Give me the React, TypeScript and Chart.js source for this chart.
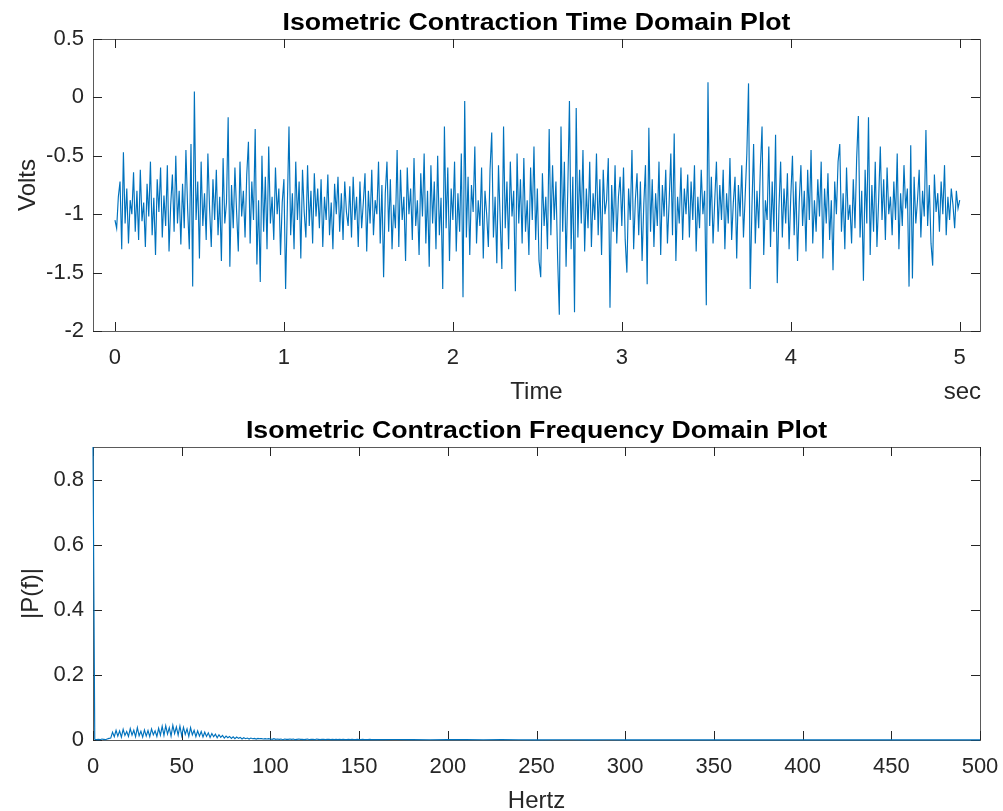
import React, { useEffect, useRef } from 'react';
import { Chart, registerables } from 'chart.js';
Chart.register(...registerables);

// ---------- Data: time domain (5 s, one reading every 10 ms) ----------
const SAMPLE_STEP_SEC = 0.01;
const VOLTS = [
  -1.05, -1.12, -0.85, -0.72, -1.30, -0.47, -1.08, -0.78, -1.25, -0.88, -1.00, -0.64, -1.15, -0.80, -1.22, -0.62, -1.06, -0.90, -1.28, -0.74,
  -1.02, -0.55, -1.18, -0.86, -1.35, -0.70, -0.98, -0.60, -1.20, -0.84, -1.10, -0.58, -1.32, -0.92, -0.66, -1.15, -0.50, -1.08, -0.80, -1.26,
  -0.74, -1.12, -0.45, -0.95, -1.30, -0.40, -1.62, 0.05, -1.05, -0.72, -1.38, -0.55, -1.10, -0.82, -1.22, -0.48, -0.95, -1.28, -0.70, -1.05,
  -0.62, -1.18, -0.85, -1.40, -0.52, -1.08, -0.90, -0.17, -1.45, -0.75, -1.12, -0.60, -0.98, -1.32, -0.55, -1.02, -0.80, -1.20, -0.66, -0.38,
  -1.25, -0.72, -1.05, -0.27, -1.43, -0.88, -1.58, -0.50, -1.15, -0.68, -1.30, -0.42, -1.08, -0.85, -1.22, -0.60, -1.00, -0.78, -1.35, -0.90,
  -0.70, -1.64, -0.95, -0.25, -1.18, -0.82, -1.30, -0.55, -1.05, -0.72, -1.38, -0.62, -0.98, -1.20, -0.58, -1.10, -0.80, -1.25, -0.65, -1.02,
  -0.78, -1.12, -0.70, -1.28, -0.85, -1.05, -0.66, -1.18, -0.90, -1.30, -0.74, -1.00, -0.68, -1.15, -0.82, -1.22, -0.72, -0.98, -1.10, -0.76,
  -1.20, -0.68, -1.05, -0.85, -1.28, -0.72, -1.12, -0.90, -0.65, -1.32, -0.80, -1.08, -0.62, -1.18, -0.88, -1.00, -0.55, -1.25, -0.75, -1.54,
  -0.82, -0.55, -1.15, -0.70, -1.30, -0.92, -1.12, -0.45, -1.28, -0.62, -1.05, -0.85, -1.40, -0.60, -1.00, -0.78, -1.22, -0.52, -1.10, -0.88,
  -1.35, -0.65, -1.02, -0.48, -1.25, -0.80, -1.45, -0.58, -1.08, -0.72, -1.30, -0.50, -1.18, -0.86, -1.64, -0.25, -1.12, -0.60, -1.40, -0.78,
  -1.05, -0.55, -1.32, -0.82, -1.15, -0.48, -1.71, -0.03, -1.20, -0.68, -1.35, -0.75, -0.98, -0.42, -1.25, -0.88, -1.10, -0.60, -1.38, -0.80,
  -1.00, -1.28, -0.62, -0.30, -1.20, -0.85, -1.42, -0.58, -1.05, -1.47, -0.25, -1.12, -0.72, -1.30, -0.55, -1.02, -0.80, -1.66, -0.48, -1.08,
  -0.70, -1.25, -0.52, -1.15, -0.88, -1.35, -0.60, -1.05, -0.42, -1.22, -0.78, -1.40, -1.54, -0.65, -1.10, -0.85, -1.30, -0.27, -1.18, -0.58,
  -1.05, -0.72, -1.38, -1.86, -0.25, -1.15, -0.55, -1.45, -0.80, -0.03, -1.30, -0.68, -1.84, -0.09, -1.20, -0.62, -1.08, -0.45, -1.32, -0.78,
  -1.12, -0.55, -1.28, -0.82, -1.05, -0.48, -1.18, -0.70, -1.35, -0.62, -1.00, -0.88, -0.52, -1.80, -0.75, -1.15, -0.58, -1.25, -0.85, -0.68,
  -1.10, -0.60, -1.22, -1.50, -0.78, -1.05, -0.45, -1.30, -0.88, -0.65, -1.18, -0.72, -1.40, -0.92, -0.58, -1.60, -0.26, -1.15, -0.70, -1.28,
  -0.82, -1.10, -0.55, -1.35, -0.75, -1.02, -0.62, -1.25, -0.90, -0.48, -1.18, -0.31, -1.40, -0.85, -1.08, -0.60, -1.22, -0.78, -1.00, -0.66,
  -1.20, -0.72, -1.05, -0.58, -1.32, -0.85, -1.12, -0.62, -1.00, -0.80, -1.78, 0.13, -1.10, -0.68, -1.25, -0.88, -0.55, -1.15, -0.75, -1.05,
  -0.62, -1.30, -0.82, -1.08, -0.52, -1.22, -0.90, -0.68, -1.38, -0.75, -1.02, -0.58, -1.20, -0.85, -0.48, 0.12, -1.64, -0.95, -0.40, -1.25,
  -0.80, -1.12, -0.60, -0.25, -1.35, -0.88, -1.05, -0.42, -1.28, -0.72, -1.15, -0.32, -1.59, -0.95, -0.55, -1.20, -0.78, -1.08, -0.65, -1.30,
  -0.85, -0.50, -1.18, -0.72, -1.40, -0.90, -0.58, -1.10, -0.80, -1.32, -0.62, -1.05, -0.45, -1.25, -0.88, -1.15, -0.70, -1.02, -0.55, -1.38,
  -0.78, -1.08, -0.65, -1.22, -0.88, -1.48, -0.72, -1.00, -0.55, -0.40, -1.15, -0.82, -1.30, -0.60, -1.05, -0.92, -1.25, -0.70, -1.12, -0.52,
  -0.16, -1.20, -0.80, -1.57, -0.62, -1.08, -0.17, -1.35, -0.75, -1.15, -0.55, -1.28, -0.88, -0.42, -1.05, -0.70, -1.22, -0.60, -1.00, -0.85,
  -1.18, -0.72, -1.05, -0.48, -1.30, -0.82, -1.10, -0.58, -0.95, -0.78, -1.62, -0.41, -1.55, -0.68, -1.08, -0.88, -0.62, -1.20, -0.80, -1.02,
  -0.28, -1.10, -0.75, -1.25, -1.44, -0.66, -0.98, -0.82, -1.15, -0.72, -1.00, -0.58, -1.18, -0.85, -1.05, -0.78, -0.92, -1.12, -0.80, -0.95,
  -0.88,
];
const TIME_TICKS = [0, 1, 2, 3, 4, 5];
const TIME_TICK_LABELS = ['0', '1', '2', '3', '4', '5'];
const VOLT_TICKS = [0.5, 0, -0.5, -1, -1.5, -2];
const VOLT_TICK_LABELS = ['0.5', '0', '-0.5', '-1', '-1.5', '-2'];

// ---------- Data: frequency domain ----------
const LOW_BAND_STEP_HZ = 1; // magnitudes for 0..159 Hz
const LOW_BAND_MAG = [
  0.90, 0.002, 0.001, 0.002, 0.001, 0.003, 0.002, 0.001, 0.003, 0.005,
  0.006, 0.024, 0.010, 0.030, 0.012, 0.028, 0.009, 0.033, 0.014, 0.026,
  0.011, 0.035, 0.015, 0.030, 0.010, 0.038, 0.013, 0.027, 0.009, 0.031,
  0.012, 0.029, 0.010, 0.034, 0.016, 0.028, 0.011, 0.036, 0.015, 0.042,
  0.014, 0.044, 0.018, 0.038, 0.012, 0.045, 0.020, 0.040, 0.015, 0.043,
  0.013, 0.039, 0.017, 0.034, 0.011, 0.038, 0.016, 0.030, 0.010, 0.028,
  0.012, 0.026, 0.009, 0.024, 0.011, 0.022, 0.008, 0.020, 0.010, 0.018,
  0.007, 0.016, 0.008, 0.014, 0.006, 0.012, 0.007, 0.011, 0.005, 0.010,
  0.004, 0.009, 0.005, 0.008, 0.003, 0.007, 0.004, 0.006, 0.003, 0.006,
  0.004, 0.005, 0.003, 0.005, 0.004, 0.004, 0.003, 0.004, 0.003, 0.004,
  0.003, 0.002, 0.004, 0.002, 0.003, 0.002, 0.003, 0.001, 0.003, 0.002,
  0.002, 0.003, 0.002, 0.003, 0.001, 0.002, 0.003, 0.002, 0.002, 0.001,
  0.002, 0.003, 0.001, 0.002, 0.002, 0.001, 0.003, 0.002, 0.001, 0.002,
  0.002, 0.001, 0.002, 0.002, 0.001, 0.002, 0.001, 0.002, 0.001, 0.002,
  0.001, 0.002, 0.001, 0.001, 0.002, 0.001, 0.002, 0.001, 0.001, 0.002,
  0.001, 0.001, 0.002, 0.001, 0.001, 0.001, 0.002, 0.001, 0.001, 0.001,
];
const TAIL_HZ = [160, 170, 180, 190, 200, 210, 220, 230, 240, 250, 260, 270, 280, 290, 300, 310, 320, 330, 340, 350, 360, 370, 380, 390, 400, 410, 420, 430, 440, 450, 460, 470, 480, 490, 500];
const TAIL_MAG = [0.001, 0.0015, 0.001, 0.0008, 0.0012, 0.001, 0.0007, 0.001, 0.0009, 0.0006, 0.0008, 0.0007, 0.0005, 0.0007, 0.0006, 0.0005, 0.0006, 0.0004, 0.0005, 0.0004, 0.0005, 0.0004, 0.0003, 0.0004, 0.0003, 0.0004, 0.0003, 0.0003, 0.0002, 0.0003, 0.0002, 0.0003, 0.0002, 0.0002, 0.0002];
const HZ_TICKS = [0, 50, 100, 150, 200, 250, 300, 350, 400, 450, 500];
const HZ_TICK_LABELS = ['0', '50', '100', '150', '200', '250', '300', '350', '400', '450', '500'];
const MAG_TICKS = [0, 0.2, 0.4, 0.6, 0.8];
const MAG_TICK_LABELS = ['0', '0.2', '0.4', '0.6', '0.8'];

const TITLES = ['Isometric Contraction Time Domain Plot', 'Isometric Contraction Frequency Domain Plot'];
const X_LABELS = ['Time', 'Hertz'];
const Y_LABELS = ['Volts', '|P(f)|'];
const X_UNIT = 'sec';

// ---------- styling ----------
const FONT = '"Liberation Sans", Arial, Helvetica, sans-serif';
const AX = '#262626';
const BOX = '#5a5a5a';
const LINE = '#0072BD';
const W = 1003;

type Spec = {
  height: number;
  points: { x: number; y: number }[];
  xMin: number; xMax: number; yMin: number; yMax: number;
  xTicks: number[]; xLabels: string[]; yTicks: number[]; yLabels: string[];
  title: string; titleBase: number;
  xLabel: string; xLabelBase: number;
  yLabel: string; yLabelBase: number;
  unit?: string;
  area: { left: number; right: number; top: number; bottom: number };
};

function framePlugin(s: Spec) {
  return {
    id: 'matlabFrame',
    beforeDatasetsDraw(chart: any) {
      const { ctx, chartArea: a, scales } = chart;
      ctx.save();
      ctx.strokeStyle = BOX;
      ctx.lineWidth = 1;
      ctx.strokeRect(Math.round(a.left) + 0.5, Math.round(a.top) + 0.5, Math.round(a.right - a.left), Math.round(a.bottom - a.top));
      const TL = 9;
      ctx.strokeStyle = AX;
      ctx.beginPath();
      s.xTicks.forEach((v) => {
        const p = Math.round(scales.x.getPixelForValue(v)) + 0.5;
        ctx.moveTo(p, a.bottom); ctx.lineTo(p, a.bottom - TL);
        ctx.moveTo(p, a.top); ctx.lineTo(p, a.top + TL);
      });
      s.yTicks.forEach((v) => {
        const p = Math.round(scales.y.getPixelForValue(v)) + 0.5;
        ctx.moveTo(a.left, p); ctx.lineTo(a.left + TL, p);
        ctx.moveTo(a.right, p); ctx.lineTo(a.right - TL, p);
      });
      ctx.stroke();
      ctx.restore();
    },
    afterDraw(chart: any) {
      const { ctx, chartArea: a } = chart;
      ctx.save();
      const cx = (a.left + a.right) / 2;
      ctx.fillStyle = '#000';
      ctx.save();
      ctx.translate(cx, s.titleBase);
      ctx.scale(1.16, 1);
      ctx.font = 'bold 23px ' + FONT;
      ctx.textAlign = 'center';
      ctx.textBaseline = 'alphabetic';
      ctx.fillText(s.title, 0, 0);
      ctx.restore();
      ctx.fillStyle = AX;
      ctx.font = '24px ' + FONT;
      ctx.textAlign = 'center';
      ctx.textBaseline = 'alphabetic';
      ctx.fillText(s.xLabel, cx, s.xLabelBase);
      if (s.unit) {
        ctx.textAlign = 'right';
        ctx.fillText(s.unit, a.right + 1, s.xLabelBase);
      }
      ctx.save();
      ctx.translate(s.yLabelBase, (a.top + a.bottom) / 2);
      ctx.rotate(-Math.PI / 2);
      ctx.textAlign = 'center';
      ctx.fillText(s.yLabel, 0, 0);
      ctx.restore();
      ctx.restore();
    },
  };
}

function Plot({ s }: { s: Spec }) {
  const ref = useRef<HTMLCanvasElement>(null);
  useEffect(() => {
    const canvas = ref.current!;
    const chart = new Chart(canvas, {
      type: 'line',
      data: {
        datasets: [{
          data: s.points,
          borderColor: LINE,
          borderWidth: 1.15,
          pointRadius: 0,
          tension: 0,
          fill: false,
          clip: false,
        }],
      },
      options: {
        animation: false,
        responsive: false,
        events: [],
        layout: { padding: { top: s.area.top, right: W - s.area.right, left: 0, bottom: 0 } },
        plugins: { legend: { display: false }, tooltip: { enabled: false }, title: { display: false } },
        scales: {
          x: {
            type: 'linear',
            min: s.xMin, max: s.xMax,
            grid: { display: false, drawTicks: false },
            border: { display: false },
            afterBuildTicks: (sc: any) => { sc.ticks = s.xTicks.map((v) => ({ value: v })); },
            afterFit: (sc: any) => { sc.height = s.height - s.area.bottom; sc.paddingLeft = 0; sc.paddingRight = 0; },
            ticks: {
              autoSkip: false, maxRotation: 0, padding: 14, color: AX,
              font: { size: 22, family: FONT },
              callback: (v: any) => s.xLabels[s.xTicks.indexOf(v)],
            },
          },
          y: {
            type: 'linear',
            min: s.yMin, max: s.yMax,
            grid: { display: false, drawTicks: false },
            border: { display: false },
            afterBuildTicks: (sc: any) => { sc.ticks = s.yTicks.map((v) => ({ value: v })); },
            afterFit: (sc: any) => { sc.width = s.area.left; sc.paddingTop = 0; sc.paddingBottom = 0; },
            ticks: {
              autoSkip: false, padding: 9, color: AX,
              font: { size: 22, family: FONT },
              callback: (v: any) => s.yLabels[s.yTicks.indexOf(v)],
            },
          },
        },
      },
      plugins: [framePlugin(s)],
    } as any);
    return () => chart.destroy();
  }, [s]);
  return <canvas ref={ref} width={W} height={s.height} style={{ display: 'block', width: W, height: s.height }} />;
}

const timePoints = VOLTS.map((v, i) => ({ x: i * SAMPLE_STEP_SEC, y: v }));
const freqPoints = [
  ...LOW_BAND_MAG.map((m, i) => ({ x: i * LOW_BAND_STEP_HZ, y: m })),
  ...TAIL_HZ.map((h, i) => ({ x: h, y: TAIL_MAG[i] })),
].filter((p, i, arr) => i === 0 || p.x > arr[i - 1].x);

const TOP: Spec = {
  height: 405,
  points: timePoints,
  xMin: -0.13, xMax: 5.12, yMin: -2, yMax: 0.5,
  xTicks: TIME_TICKS, xLabels: TIME_TICK_LABELS, yTicks: VOLT_TICKS, yLabels: VOLT_TICK_LABELS,
  title: TITLES[0], titleBase: 30,
  xLabel: X_LABELS[0], xLabelBase: 399,
  yLabel: Y_LABELS[0], yLabelBase: 35,
  unit: X_UNIT,
  area: { left: 93, right: 980, top: 39, bottom: 331 },
};

const BOTTOM: Spec = {
  height: 406,
  points: freqPoints,
  xMin: 0, xMax: 500, yMin: 0, yMax: 0.9,
  xTicks: HZ_TICKS, xLabels: HZ_TICK_LABELS, yTicks: MAG_TICKS, yLabels: MAG_TICK_LABELS,
  title: TITLES[1], titleBase: 33,
  xLabel: X_LABELS[1], xLabelBase: 403,
  yLabel: Y_LABELS[1], yLabelBase: 38,
  area: { left: 93, right: 980, top: 42, bottom: 335 },
};

export default function App() {
  return (
    <div style={{ position: 'absolute', left: 0, top: 0, width: W, height: 811, background: '#fff' }}>
      <Plot s={TOP} />
      <Plot s={BOTTOM} />
    </div>
  );
}
